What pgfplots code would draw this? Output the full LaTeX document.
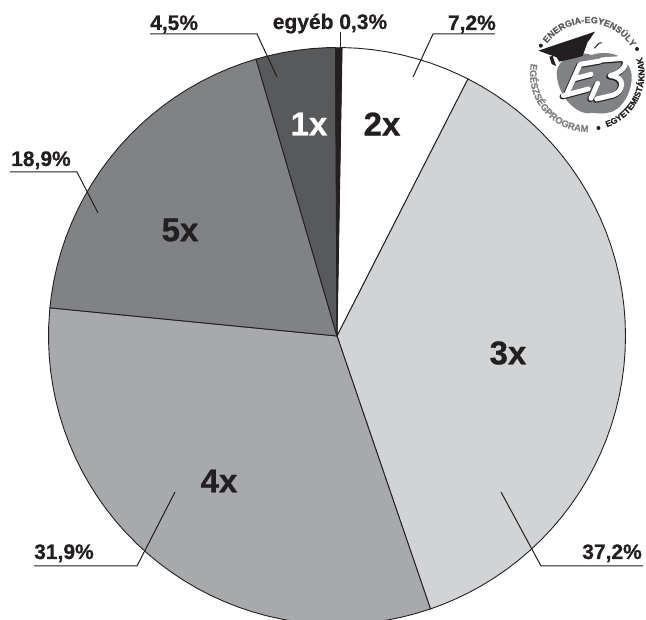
\documentclass[border=0pt]{standalone}
\usepackage{pgfplots}
\pgfplotsset{compat=1.18}
\usepackage{fontspec}
\setmainfont{Liberation Sans}[BoldFeatures={FakeBold=0.7}]
\usetikzlibrary{decorations.text}
\definecolor{ink}{HTML}{231F20}
\definecolor{w3}{HTML}{D1D3D4}
\definecolor{w4}{HTML}{A7A9AC}
\definecolor{w5}{HTML}{808285}
\definecolor{w1}{HTML}{58595B}
\newcommand{\pct}[1]{\fontsize{21}{21}\selectfont\bfseries #1}
\newcommand{\cnt}[1]{\fontsize{33}{33}\selectfont\bfseries #1}
\begin{document}
\begin{tikzpicture}
\useasboundingbox (0pt,0pt) rectangle (646pt,620pt);
\begin{axis}[
  scale only axis, width=646pt, height=620pt,
  xmin=-337, xmax=309, ymin=-284, ymax=336,
  hide axis, clip=true,
]
% Sectors as (angle in degrees, radius) around the centre of the pie
\addplot[fill=white, draw=ink, line width=0.9pt, data cs=polar] coordinates {
 (0,0)(89,288.5)(86,288.5)(83,288.5)(80,288.5)(77,288.5)(74,288.5)(71,288.5)(68,288.5)(65,288.5)(63,288.5)} --cycle;
\addplot[fill=w3, draw=ink, line width=0.9pt, data cs=polar] coordinates {
 (0,0)(63,288.5)(60,288.5)(57,288.5)(54,288.5)(51,288.5)(48,288.5)(45,288.5)(42,288.5)(39,288.5)(36,288.5)(33,288.5)(30,288.5)(27,288.5)(24,288.5)(21,288.5)(18,288.5)(15,288.5)(12,288.5)(9,288.5)(6,288.5)(3,288.5)(0,288.5)(-3,288.5)(-6,288.5)(-9,288.5)(-12,288.5)(-15,288.5)(-18,288.5)(-21,288.5)(-24,288.5)(-27,288.5)(-30,288.5)(-33,288.5)(-36,288.5)(-39,288.5)(-42,288.5)(-45,288.5)(-48,288.5)(-51,288.5)(-54,288.5)(-57,288.5)(-60,288.5)(-63,288.5)(-66,288.5)(-69,288.5)(-71.1,288.5)} --cycle;
\addplot[fill=w4, draw=ink, line width=0.9pt, data cs=polar] coordinates {
 (0,0)(-71.1,288.5)(-74,288.5)(-77,288.5)(-80,288.5)(-83,288.5)(-86,288.5)(-89,288.5)(-92,288.5)(-95,288.5)(-98,288.5)(-101,288.5)(-104,288.5)(-107,288.5)(-110,288.5)(-113,288.5)(-116,288.5)(-119,288.5)(-122,288.5)(-125,288.5)(-128,288.5)(-131,288.5)(-134,288.5)(-137,288.5)(-140,288.5)(-143,288.5)(-146,288.5)(-149,288.5)(-152,288.5)(-155,288.5)(-158,288.5)(-161,288.5)(-164,288.5)(-167,288.5)(-170,288.5)(-173,288.5)(-176,288.5)(-179,288.5)(-182,288.5)(-185.6,288.5)} --cycle;
\addplot[fill=w5, draw=ink, line width=0.9pt, data cs=polar] coordinates {
 (0,0)(-185.6,288.5)(-188,288.5)(-191,288.5)(-194,288.5)(-197,288.5)(-200,288.5)(-203,288.5)(-206,288.5)(-209,288.5)(-212,288.5)(-215,288.5)(-218,288.5)(-221,288.5)(-224,288.5)(-227,288.5)(-230,288.5)(-233,288.5)(-236,288.5)(-239,288.5)(-242,288.5)(-245,288.5)(-248,288.5)(-251,288.5)(-253.7,288.5)} --cycle;
\addplot[fill=w1, draw=ink, line width=0.9pt, data cs=polar] coordinates {
 (0,0)(-253.7,288.5)(-256,288.5)(-259,288.5)(-262,288.5)(-265,288.5)(-268,288.5)(-269.7,288.5)} --cycle;
\addplot[fill=ink, draw=ink, line width=0.5pt, data cs=polar] coordinates {
 (0,0)(90.3,288.5)(89,288.5)} --cycle;
% Leader lines from the sectors to their percentages
\addplot[ink, line width=1pt] coordinates {(-187,302)(-80,302)(-60,259)};
\addplot[ink, line width=1pt] coordinates {(3,304)(3,288)};
\addplot[ink, line width=1pt] coordinates {(158,302)(96,302)(76,259)};
\addplot[ink, line width=1pt] coordinates {(-327,164)(-260,164)(-239,123)};
\addplot[ink, line width=1pt] coordinates {(-303,-230)(-200,-230)(-162,-156)};
\addplot[ink, line width=1pt] coordinates {(164,-156)(204,-230)(306,-230)};
% Percentages
\node[anchor=base west, text=ink, inner sep=0pt] at (axis cs:-187,306) {\pct{4,5\%}};
\node[anchor=base, text=ink, inner sep=0pt] at (axis cs:-7,307) {\pct{egyéb 0,3\%}};
\node[anchor=base east, text=ink, inner sep=0pt] at (axis cs:159,306) {\pct{7,2\%}};
\node[anchor=base west, text=ink, inner sep=0pt] at (axis cs:-326,170) {\pct{18,9\%}};
\node[anchor=base west, text=ink, inner sep=0pt] at (axis cs:-303,-223) {\pct{31,9\%}};
\node[anchor=base east, text=ink, inner sep=0pt] at (axis cs:305,-223) {\pct{37,2\%}};
% Sector names
\node[text=white, inner sep=0pt] at (axis cs:-28,212) {\cnt{1x}};
\node[text=ink, inner sep=0pt] at (axis cs:45,212) {\cnt{2x}};
\node[text=ink, inner sep=0pt] at (axis cs:171,-17) {\cnt{3x}};
\node[text=ink, inner sep=0pt] at (axis cs:-118,-145) {\cnt{4x}};
\node[text=ink, inner sep=0pt] at (axis cs:-157,106) {\cnt{5x}};
\end{axis}
% Programme emblem, upper right: apple and mortarboard, in thirds of a pixel from (500,0)
\begin{scope}[shift={(500pt,620pt)}, x=0.33333pt, y=-0.33333pt]
  \fill[w5] (170,215) .. controls (175,175) and (230,150) .. (275,165) .. controls (320,150) and (385,160) .. (395,225)
     .. controls (398,280) and (360,335) .. (325,338) .. controls (300,345) and (280,335) .. (265,340)
     .. controls (225,340) and (170,285) .. (170,215) -- cycle;
  \fill[ink] (115,152) -- (285,95) -- (262,128) -- (248,168) .. controls (225,175) and (200,180) .. (178,185) -- (170,172) -- cycle;
  \fill[ink] (148,170) -- (158,168) -- (168,198) -- (155,192) -- cycle;
  \draw[ink, line width=1pt] (283,145) .. controls (292,140) and (292,128) .. (305,128);
\end{scope}
% Brush-drawn E3 on the apple, in thirds of a pixel from (555,45)
\begin{scope}[shift={(555pt,575pt)}, x=0.33333pt, y=-0.33333pt]
  \def\letterstrokes{
    (135,48) -- (75,58) -- (35,148)
    (55,102) -- (108,88)
    (25,152) -- (100,132)
    (140,45) -- (205,40) .. controls (225,60) and (195,85) .. (165,92)
      .. controls (215,95) and (205,140) .. (175,150) -- (125,162)
    (128,115) -- (108,160)}
  \begin{scope}[shift={(-2.5,2.5)}]
    \draw[ink, line width=6pt, line join=round, line cap=round] \letterstrokes;
  \end{scope}
  \draw[white, line width=5pt, line join=round, line cap=round] \letterstrokes;
\end{scope}
% Lettering round the emblem
\begin{scope}
  \coordinate (c) at (588pt,546pt);
  \path[postaction={decorate}, decoration={text along path, text align=center,
      text={|\fontsize{9}{9}\selectfont\bfseries\color{w1}|ENERGIA-EGYENSÚLY}}]
      (c) ++(145:51pt) arc (145:30:51pt);
  \path[postaction={decorate}, decoration={text along path, text align=center,
      text={|\fontsize{8.6}{8.6}\selectfont\bfseries\color{ink}|EGYETEMISTÁKNAK}}]
      (c) ++(-75:56.5pt) arc (-75:22:56.5pt);
  \path[postaction={decorate}, decoration={text along path, text align=center,
      text={|\fontsize{9.5}{9.5}\selectfont\bfseries\color{w5}|EGÉSZSÉGPROGRAM}}]
      (c) ++(165:58pt) arc (165:275:58pt);
  \fill[ink] (c) ++(149:55pt) circle (2pt);
  \fill[ink] (c) ++(27:55pt) circle (2pt);
  \fill[ink] (c) ++(-79:55pt) circle (2pt);
\end{scope}
\end{tikzpicture}
\end{document}
